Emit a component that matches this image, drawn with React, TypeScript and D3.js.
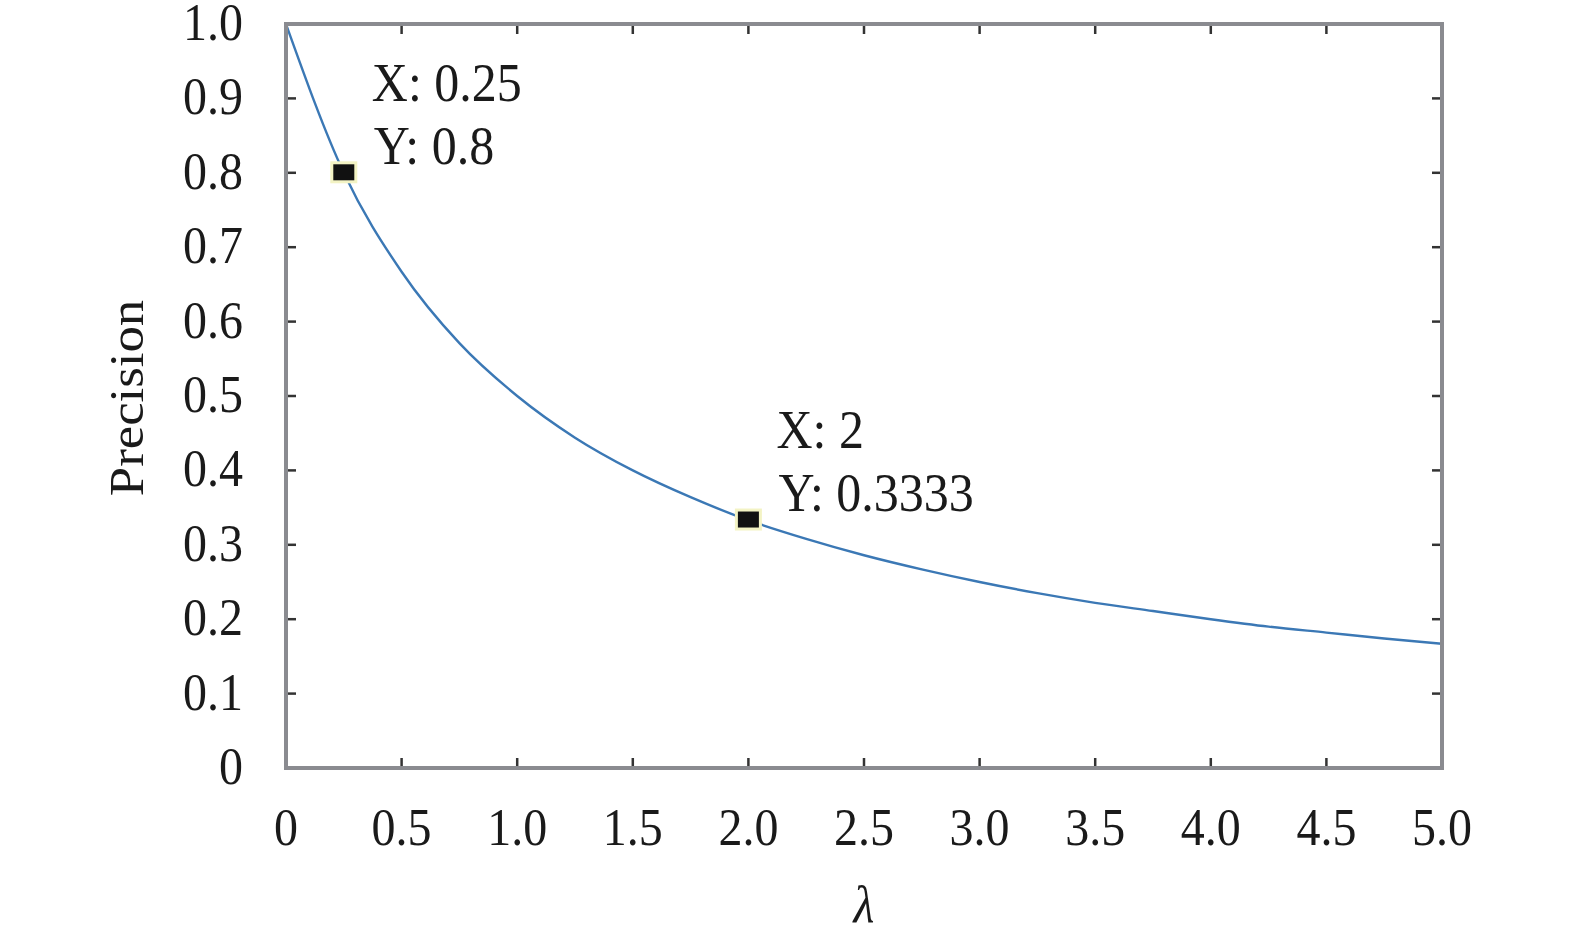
import * as d3 from "d3";

// values
const lambdaValues = [0, 0.25, 0.5, 0.75, 1.0, 1.25, 1.5, 1.75, 2.0, 2.25, 2.5, 2.75, 3.0, 3.25, 3.5, 3.75, 4.0, 4.25, 4.5, 4.75, 5.0];
const precisionValues = [1.0, 0.8, 0.667, 0.571, 0.5, 0.444, 0.4, 0.364, 0.333, 0.308, 0.286, 0.267, 0.25, 0.235, 0.222, 0.211, 0.2, 0.19, 0.182, 0.174, 0.167];

const markerX = [0.25, 2];
const markerY = [0.8, 0.3333];
const markerLabelX = ["X: 0.25", "X: 2"];
const markerLabelY = ["Y: 0.8", "Y: 0.3333"];

const xTicks = [0, 0.5, 1.0, 1.5, 2.0, 2.5, 3.0, 3.5, 4.0, 4.5, 5.0];
const xTickLabels = ["0", "0.5", "1.0", "1.5", "2.0", "2.5", "3.0", "3.5", "4.0", "4.5", "5.0"];
const yTicks = [0, 0.1, 0.2, 0.3, 0.4, 0.5, 0.6, 0.7, 0.8, 0.9, 1.0];
const yTickLabels = ["0", "0.1", "0.2", "0.3", "0.4", "0.5", "0.6", "0.7", "0.8", "0.9", "1.0"];

const FONT = "'Liberation Serif', 'Times New Roman', serif";

// the source figure is slightly stretched vertically, so text gets a small y-scale
function T({ x, y, size, anchor = "start", italic = false, rot = 0, children }: {
  x: number; y: number; size: number; anchor?: string; italic?: boolean; rot?: number; children: string;
}) {
  const tf = rot
    ? `translate(${x},${y}) rotate(${rot}) scale(1.1,1)`
    : `translate(${x},${y}) scale(1,1.1)`;
  return (
    <text transform={tf} textAnchor={anchor} fontFamily={FONT} fontSize={size}
      fontStyle={italic ? "italic" : "normal"} fill="#1a1a1a">
      {children}
    </text>
  );
}

export default function App() {
  const W = 1575, H = 941;
  const left = 286, right = 1442, top = 24, bottom = 768;
  const x = d3.scaleLinear().domain([0, 5]).range([left, right]);
  const y = d3.scaleLinear().domain([0, 1]).range([bottom, top]);
  const pts = lambdaValues.map((v, i) => [v, precisionValues[i]] as [number, number]);
  const line = d3.line<[number, number]>().x(d => x(d[0])).y(d => y(d[1])).curve(d3.curveMonotoneX);
  const tickLen = 10;

  return (
    <svg width={W} height={H} style={{ position: "absolute", left: 0, top: 0, background: "#fff" }}>
      <path d={line(pts) ?? ""} fill="none" stroke="#3b78b5" strokeWidth={2.4} />

      {/* ticks, pointing inward on all four sides */}
      {xTicks.slice(1, -1).map(t => (
        <g key={"xt" + t} stroke="#333" strokeWidth={2.5}>
          <line x1={x(t)} x2={x(t)} y1={bottom} y2={bottom - tickLen} />
          <line x1={x(t)} x2={x(t)} y1={top} y2={top + tickLen} />
        </g>
      ))}
      {yTicks.slice(1, -1).map(t => (
        <g key={"yt" + t} stroke="#333" strokeWidth={2.5}>
          <line x1={left} x2={left + tickLen} y1={y(t)} y2={y(t)} />
          <line x1={right} x2={right - tickLen} y1={y(t)} y2={y(t)} />
        </g>
      ))}

      <rect x={left} y={top} width={right - left} height={bottom - top} fill="none" stroke="#8a8b90" strokeWidth={4} />

      {xTicks.map((t, i) => (
        <T key={"xl" + t} x={x(t)} y={845} size={48} anchor="middle">{xTickLabels[i]}</T>
      ))}
      {yTicks.map((t, i) => (
        <T key={"yl" + t} x={243} y={y(t) + 16} size={48} anchor="end">{yTickLabels[i]}</T>
      ))}

      <T x={143} y={(top + bottom) / 2 + 2} size={48} anchor="middle" rot={-90}>Precision</T>
      <T x={x(2.5)} y={922} size={48} anchor="middle" italic>λ</T>

      {markerX.map((mx, i) => (
        <g key={"m" + i}>
          <rect x={x(mx) - 12} y={y(markerY[i]) - 10} width={24} height={19} fill="#111" stroke="#f3f3c4" strokeWidth={3} />
          <T x={x(mx) + 28} y={y(markerY[i]) - 72} size={50}>{markerLabelX[i]}</T>
          <T x={x(mx) + 30} y={y(markerY[i]) - 9} size={50}>{markerLabelY[i]}</T>
        </g>
      ))}
    </svg>
  );
}
